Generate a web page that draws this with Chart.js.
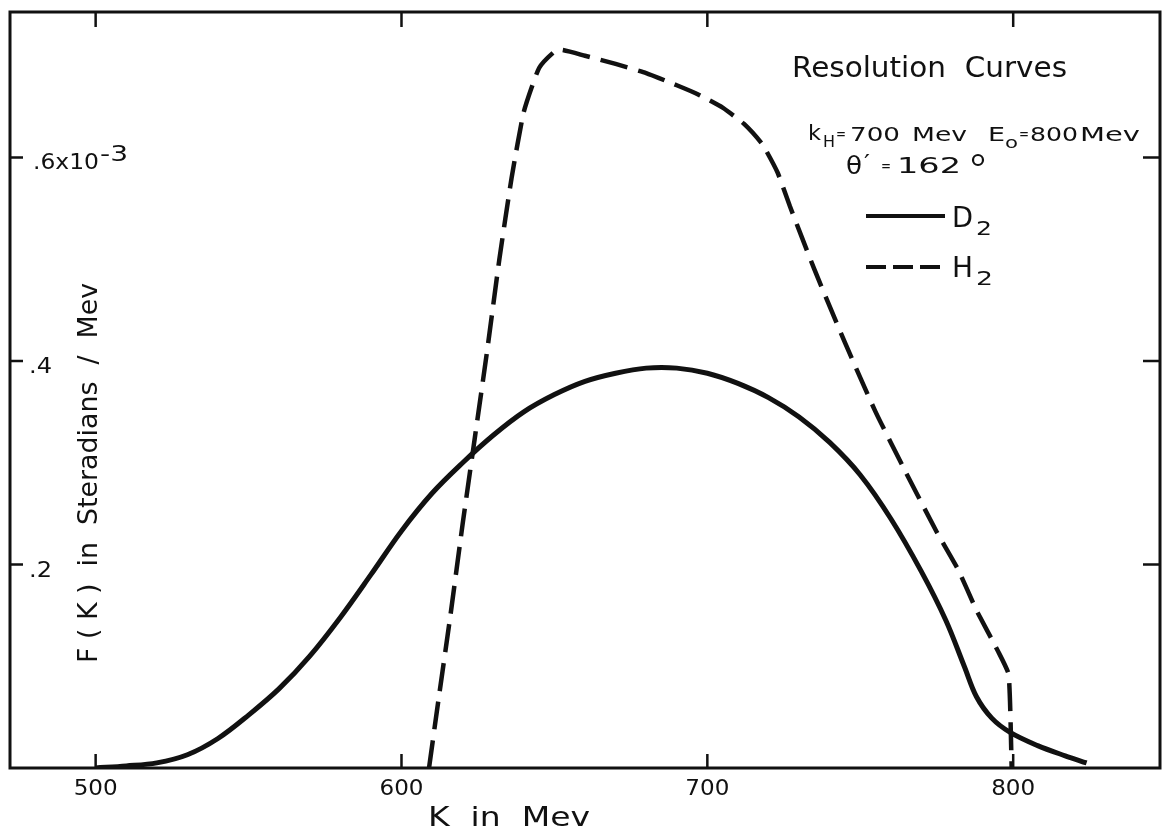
<!DOCTYPE html>
<html lang="en">
<head>
  <meta charset="UTF-8">
  <title>Resolution Curves</title>
  <script src="https://cdn.jsdelivr.net/npm/chart.js@4.4.0/dist/chart.umd.min.js"></script>
  <style>
    html, body { margin: 0; padding: 0; background: #fff; }
    #res-chart { display: block; }
  </style>
</head>
<body>
  <canvas id="res-chart" width="1171" height="831"></canvas>

  <script>
    // K in Mev, F(K) in units of 10^-3 steradians / Mev
    const kTicks = [500, 600, 700, 800];
    const fTicks = [0.2, 0.4, 0.6];
    const fTickLabels = ['.2', '.4', '.6x10'];

    // D2 curve (solid)
    const kD2 = [500, 510, 520, 530, 540, 550, 560, 570, 580, 590, 600, 610, 620, 630, 640, 650, 660, 670, 680, 690,
                 700, 710, 720, 730, 740, 750, 760, 770, 778, 784, 788, 793, 799, 808, 817, 824];
    const fD2 = [0.000, 0.002, 0.005, 0.013, 0.029, 0.052, 0.078, 0.110, 0.148, 0.190, 0.233, 0.270, 0.300, 0.327, 0.350, 0.367, 0.380, 0.388, 0.393, 0.393,
                 0.388, 0.378, 0.364, 0.345, 0.320, 0.288, 0.245, 0.193, 0.145, 0.100, 0.070, 0.049, 0.035, 0.022, 0.012, 0.005];

    // H2 curve (dashed)
    const kH2 = [609, 612, 616, 620, 624, 628, 632, 636, 640, 645, 651, 660, 670, 680, 690, 697, 705, 712, 718, 723,
                 727, 735, 745, 755, 765, 775, 782, 788, 795, 798.5, 799.5];
    const fH2 = [0.000, 0.065, 0.150, 0.240, 0.325, 0.410, 0.500, 0.580, 0.645, 0.688, 0.706, 0.700, 0.692, 0.683, 0.671, 0.662, 0.649, 0.633, 0.613, 0.585,
                 0.552, 0.490, 0.418, 0.350, 0.290, 0.232, 0.195, 0.155, 0.115, 0.092, 0.000];

    const pts = (xs, ys) => xs.map((x, i) => ({ x: x, y: ys[i] }));

    const FONT = '"DejaVu Sans", sans-serif';

    // draw text with its left edge at x, baseline at y, squeezed/stretched to width w
    function txt(ctx, s, x, y, size, w) {
      ctx.save();
      ctx.font = size + 'px ' + FONT;
      ctx.textAlign = 'left';
      ctx.textBaseline = 'alphabetic';
      const m = ctx.measureText(s).width;
      ctx.translate(x, y);
      if (w) ctx.scale(w / m, 1);
      ctx.fillText(s, 0, 0);
      ctx.restore();
    }

    const paper = {
      id: 'paper',
      beforeDraw(chart) {
        const ctx = chart.ctx;
        ctx.save();
        ctx.fillStyle = '#fff';
        ctx.fillRect(0, 0, chart.width, chart.height);
        ctx.restore();
      },
      afterDraw(chart) {
        const ctx = chart.ctx;
        const a = chart.chartArea;
        const xs = chart.scales.x;
        const ys = chart.scales.y;
        ctx.save();
        ctx.strokeStyle = '#111';
        ctx.fillStyle = '#111';
        ctx.lineCap = 'butt';

        // frame
        ctx.lineWidth = 3;
        ctx.strokeRect(a.left, a.top, a.right - a.left, a.bottom - a.top);

        // tick marks, all pointing inward
        ctx.lineWidth = 2.5;
        ctx.beginPath();
        kTicks.forEach(k => {
          const x = xs.getPixelForValue(k);
          ctx.moveTo(x, a.bottom); ctx.lineTo(x, a.bottom - 14);
          ctx.moveTo(x, a.top); ctx.lineTo(x, a.top + 15);
        });
        fTicks.forEach(f => {
          const y = ys.getPixelForValue(f);
          ctx.moveTo(a.left, y); ctx.lineTo(a.left + 13, y);
          ctx.moveTo(a.right, y); ctx.lineTo(a.right - 17, y);
        });
        ctx.stroke();

        // x tick labels
        kTicks.forEach(k => {
          const x = xs.getPixelForValue(k);
          txt(ctx, String(k), x - 22, a.bottom + 27, 22, 44);
        });

        // y tick labels, written inside the frame
        fTicks.forEach((f, i) => {
          const y = ys.getPixelForValue(f);
          const s = fTickLabels[i];
          if (s.length > 2) {
            txt(ctx, s, a.left + 23, y + 11, 21, 66);
            txt(ctx, '-3', a.left + 90, y + 3, 21, 28);
          } else {
            txt(ctx, s, a.left + 19, y + 12, 21, 23);
          }
        });

        // axis titles
        txt(ctx, 'K  in  Mev', 428, 826, 27, 162);
        ctx.save();
        ctx.translate(97, 663);
        ctx.rotate(-Math.PI / 2);
        txt(ctx, 'F ( K )  in  Steradians  /  Mev', 0, 0, 26, 380);
        ctx.restore();

        // annotation block
        txt(ctx, 'Resolution  Curves', 792, 77, 29, 275);
        txt(ctx, 'k', 808, 140, 22, 13);
        txt(ctx, 'H', 823, 147, 15, 12);
        txt(ctx, '=', 836, 139, 16, 10);
        txt(ctx, '700', 850, 141, 20, 50);
        txt(ctx, 'Mev', 912, 141, 20, 55);
        txt(ctx, 'E', 988, 141, 20, 17);
        txt(ctx, 'o', 1005, 148, 16, 13);
        txt(ctx, '=', 1019, 139, 16, 10);
        txt(ctx, '800', 1030, 141, 20, 48);
        txt(ctx, 'Mev', 1080, 141, 20, 60);
        txt(ctx, '\u03B8', 846, 174, 25, 16);
        txt(ctx, '\u2032', 864, 170, 22, 6);
        txt(ctx, '=', 881, 171, 16, 10);
        txt(ctx, '162', 897, 173, 22, 64);
        ctx.lineWidth = 2.2;
        ctx.beginPath();
        ctx.ellipse(978, 160, 5, 5, 0, 0, Math.PI * 2);
        ctx.stroke();

        // legend samples
        ctx.lineWidth = 4;
        ctx.beginPath();
        ctx.moveTo(866, 216); ctx.lineTo(945, 216);
        ctx.stroke();
        ctx.setLineDash([20, 7]);
        ctx.beginPath();
        ctx.moveTo(866, 267); ctx.lineTo(945, 267);
        ctx.stroke();
        ctx.setLineDash([]);
        txt(ctx, 'D', 952, 227, 29, 21);
        txt(ctx, '2', 976, 235, 20, 16);
        txt(ctx, 'H', 952, 277, 29, 21);
        txt(ctx, '2', 976, 285, 20, 17);

        ctx.restore();
      }
    };

    new Chart(document.getElementById('res-chart').getContext('2d'), {
      type: 'scatter',
      data: {
        datasets: [
          {
            label: 'D2',
            data: pts(kD2, fD2),
            showLine: true,
            borderColor: '#111',
            borderWidth: 5,
            pointRadius: 0,
            tension: 0.35
          },
          {
            label: 'H2',
            data: pts(kH2, fH2),
            showLine: true,
            borderColor: '#111',
            borderWidth: 4.5,
            borderDash: [28, 11],
            pointRadius: 0,
            tension: 0.15
          }
        ]
      },
      options: {
        responsive: false,
        animation: false,
        layout: { padding: { left: 10, top: 12, right: 11, bottom: 63 } },
        plugins: { legend: { display: false }, tooltip: { enabled: false } },
        scales: {
          x: { type: 'linear', min: 472, max: 848, display: false },
          y: { type: 'linear', min: 0, max: 0.743, display: false }
        }
      },
      plugins: [paper]
    });
  </script>
</body>
</html>
